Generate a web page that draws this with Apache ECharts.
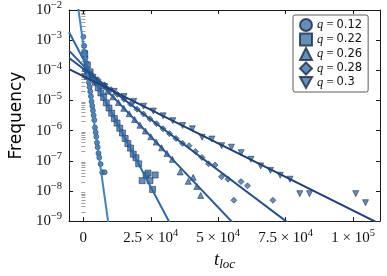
<!DOCTYPE html>
<html><head><meta charset="utf-8">
<script src="https://cdn.jsdelivr.net/npm/echarts@6/dist/echarts.min.js"></script>
<style>html,body{margin:0;padding:0;background:#fff}#c{width:387px;height:276px}</style>
</head><body><div id="c"></div>
<script>
// ---------- data ----------
const seriesNames = ['q = 0.12', 'q = 0.22', 'q = 0.26', 'q = 0.28', 'q = 0.3'];

const t12 = [0,300,550,800,1050,1300,1550,1800,2050,2300,2550,2800,3050,3300,3550,3800,4050,4300,4550,4800,5050,5300,5600,5900,6400,7000,7900];
const f12 = [1.29e-3,6.46e-4,3.98e-4,2.63e-4,1.78e-4,1.20e-4,8.32e-5,5.62e-5,3.98e-5,2.82e-5,2.00e-5,1.38e-5,9.33e-6,6.61e-6,4.68e-6,3.24e-6,2.24e-6,1.26e-6,8.91e-7,6.31e-7,3.98e-7,2.82e-7,1.78e-7,1.29e-7,7.76e-8,4.17e-8,4.17e-8];

const t22 = [500,1500,2500,3500,4500,5500,6500,7500,8500,9500,10500,11500,12500,13500,14500,15500,16500,17500,18500,19500,20500,21800,23260,23980,24700,26620,25680];
const f22 = [3.55e-4,1.51e-4,8.91e-5,5.89e-5,3.98e-5,2.63e-5,1.78e-5,1.26e-5,8.32e-6,5.62e-6,3.80e-6,2.51e-6,1.78e-6,1.20e-6,8.32e-7,5.50e-7,3.72e-7,2.63e-7,1.66e-7,1.26e-7,7.94e-8,2.19e-8,3.39e-8,3.89e-8,2.19e-8,3.39e-8,1.12e-8];

const t26 = [1000,3000,5000,7000,9000,11000,13000,15000,17000,19000,21000,23000,25000,27000,29000,31000,33000,35920,38920,40730,42070,43510];
const f26 = [1.15e-4,7.41e-5,4.79e-5,3.16e-5,2.04e-5,1.32e-5,8.51e-6,5.50e-6,3.63e-6,2.34e-6,1.51e-6,9.77e-7,6.31e-7,4.17e-7,2.69e-7,1.74e-7,1.12e-7,4.27e-8,2.09e-8,2.82e-8,1.41e-8,7.08e-9];

const t28 = [610,3020,5430,7840,10250,12660,15070,17480,19890,22300,24710,27120,29530,31940,34350,36760,39170,41580,43990,46400,48810,51220,53630,55810,58450,60860,70280];
const f28 = [1.02e-4,7.08e-5,4.90e-5,3.31e-5,2.29e-5,1.58e-5,1.10e-5,7.59e-6,5.13e-6,3.55e-6,2.45e-6,1.70e-6,1.15e-6,7.94e-7,5.50e-7,3.80e-7,3.16e-7,2.04e-7,1.29e-7,7.94e-8,7.24e-8,2.95e-8,2.45e-8,4.90e-9,2.04e-8,1.48e-8,4.90e-9];

const t30 = [600,4220,7840,11460,15080,18700,22320,25940,29560,33180,36800,40420,44040,47660,51280,54900,58520,62140,65760,69380,73000,76620,80240,83860,101000,104640];
const f30 = [6.03e-5,4.17e-5,2.88e-5,2.00e-5,1.35e-5,9.33e-6,6.46e-6,4.47e-6,3.09e-6,2.14e-6,1.48e-6,1.15e-6,6.03e-7,5.25e-7,3.16e-7,2.82e-7,1.86e-7,1.12e-7,6.76e-8,4.79e-8,3.31e-8,2.45e-8,8.13e-9,8.13e-9,8.13e-9,4.07e-9];

// exponential fits: frequency = fitAmp * 10^(-fitRate * t)
const fitAmp  = [7.00e-4, 2.32e-4, 1.43e-4, 1.13e-4, 6.40e-5];
const fitRate = [6.387e-4, 1.6937e-4, 9.40e-5, 6.729e-5, 4.455e-5];

const xTickValues = [0, 25000, 50000, 75000, 100000];
const xTickMant = ['0', '2.5', '5', '7.5', '1'];
const xTickExp  = ['', '4', '4', '4', '5'];
const yTickExp  = [-9, -8, -7, -6, -5, -4, -3, -2];

// ---------- chart ----------
const tSets = [t12, t22, t26, t28, t30];
const fSets = [f12, f22, f26, f28, f30];
const symbols = ['circle', 'rect', 'triangle', 'diamond', 'path://M0,0 L10,0 L5,9 Z'];
const symSizes = [5, 6, 6, 6, 6];
const lineColors = ['#3a86c8', '#2c68ad', '#285a9c', '#234c8b', '#1e3f78'];
const markerFill = '#3e72aa';
const markerEdge = '#1a2a3e';
const X_MIN = -5300, X_MAX = 110000;
const Y_MIN = 1e-9, Y_MAX = 1e-2;
const serif = 'Liberation Serif';
const axisColor = '#1a1a1a';

const yTickValues = yTickExp.map(e => Math.pow(10, e));
const yMinor = [];
for (let e = -9; e < -2; e++) for (let m = 2; m <= 9; m++) yMinor.push(m * Math.pow(10, e));

const supRich = {
  b: { fontFamily: serif, fontSize: 15, color: '#111', lineHeight: 20 },
  s: { fontFamily: serif, fontSize: 10.5, color: '#111', verticalAlign: 'top', lineHeight: 11 }
};

const series = [];
for (let i = 0; i < 5; i++) {
  series.push({
    name: seriesNames[i], type: 'scatter', xAxisIndex: 0, yAxisIndex: 0,
    symbol: symbols[i], symbolSize: symSizes[i],
    itemStyle: { color: markerFill, borderColor: markerEdge, borderWidth: 0.7 },
    data: tSets[i].map((t, k) => [t, fSets[i][k]]), z: 3
  });
}
for (let i = 0; i < 5; i++) {
  const ts = [X_MIN, X_MAX];
  series.push({
    name: 'fit' + i, type: 'line', xAxisIndex: 0, yAxisIndex: 0,
    showSymbol: false, symbol: 'none', clip: true, silent: true,
    lineStyle: { color: lineColors[i], width: 2 },
    data: ts.map(t => [t, fitAmp[i] * Math.pow(10, -fitRate[i] * t)]), z: 4
  });
}

const baseX = {
  type: 'value', min: X_MIN, max: X_MAX,
  axisLine: { show: true, onZero: false, lineStyle: { color: axisColor, width: 1 } },
  splitLine: { show: false }
};
const baseY = {
  type: 'log', logBase: 10, min: Y_MIN, max: Y_MAX,
  axisLine: { show: true, onZero: false, lineStyle: { color: axisColor, width: 1 } },
  splitLine: { show: false }, minorTick: { show: false }
};

const option = {
  animation: false,
  backgroundColor: '#fff',
  grid: { left: 61, top: 6, right: 7, bottom: 41, containLabel: false },
  xAxis: [
    Object.assign({}, baseX, {
      position: 'bottom',
      axisTick: { show: true, inside: true, length: 4, customValues: xTickValues, lineStyle: { color: axisColor } },
      axisLabel: {
        show: true, margin: 7, customValues: xTickValues,
        formatter: v => { const i = xTickValues.indexOf(v); return i === 0 ? '{b|0}' : '{b|' + xTickMant[i] + ' × 10}{s|' + xTickExp[i] + '}'; },
        rich: supRich
      },
      name: '{t|t}{sub|loc}', nameLocation: 'middle', nameGap: 24,
      nameTextStyle: { rich: {
        t: { fontFamily: serif, fontStyle: 'italic', fontSize: 19, color: '#111', lineHeight: 22 },
        sub: { fontFamily: serif, fontStyle: 'italic', fontSize: 13, color: '#111', verticalAlign: 'bottom', lineHeight: 14 }
      } }
    }),
    Object.assign({}, baseX, {
      position: 'top',
      axisTick: { show: true, inside: true, length: 4, customValues: xTickValues, lineStyle: { color: axisColor } },
      axisLabel: { show: false }
    })
  ],
  yAxis: [
    Object.assign({}, baseY, {
      position: 'left',
      axisTick: { show: true, inside: true, length: 4, customValues: yTickValues, lineStyle: { color: axisColor } },
      axisLabel: { show: true, margin: 7, customValues: yTickValues,
        formatter: v => { const e = Math.round(Math.log10(v)); return '{b|10}{s|' + (e < 0 ? '−' : '') + Math.abs(e) + '}'; },
        rich: supRich },
      name: 'Frequency', nameLocation: 'middle', nameGap: 42,
      nameTextStyle: { fontFamily: 'DejaVu Sans', fontSize: 17, color: '#000' }
    }),
    Object.assign({}, baseY, {
      position: 'left', axisLine: { show: false },
      axisTick: { show: true, inside: true, length: 2, customValues: yMinor, lineStyle: { color: '#555', width: 0.6 } },
      axisLabel: { show: false }
    }),
    Object.assign({}, baseY, {
      position: 'right',
      axisTick: { show: true, inside: true, length: 4, customValues: yTickValues, lineStyle: { color: axisColor } },
      axisLabel: { show: false }
    }),
    Object.assign({}, baseY, {
      position: 'right', axisLine: { show: false },
      axisTick: { show: true, inside: true, length: 2, customValues: yMinor, lineStyle: { color: '#555', width: 0.6 } },
      axisLabel: { show: false }
    })
  ],
  legend: {
    orient: 'vertical', left: 293, top: 15,
    data: seriesNames,
    itemWidth: 12, itemHeight: 12, itemGap: 0.5,
    padding: [3, 6, 3, 6],
    borderColor: '#333', borderWidth: 0.8, borderRadius: 2, backgroundColor: '#fff',
    formatter: name => '{q|q}{e| = }{n|' + name.replace('q = ', '') + '}',
    textStyle: { rich: {
      q: { fontFamily: serif, fontStyle: 'italic', fontSize: 12.5, color: '#111' },
      e: { fontFamily: serif, fontSize: 12.5, color: '#111' },
      n: { fontFamily: 'DejaVu Sans', fontSize: 11.5, color: '#111' }
    } }
  },
  series: series
};
const chart = echarts.init(document.getElementById('c'));
chart.setOption(option);
</script></body></html>
